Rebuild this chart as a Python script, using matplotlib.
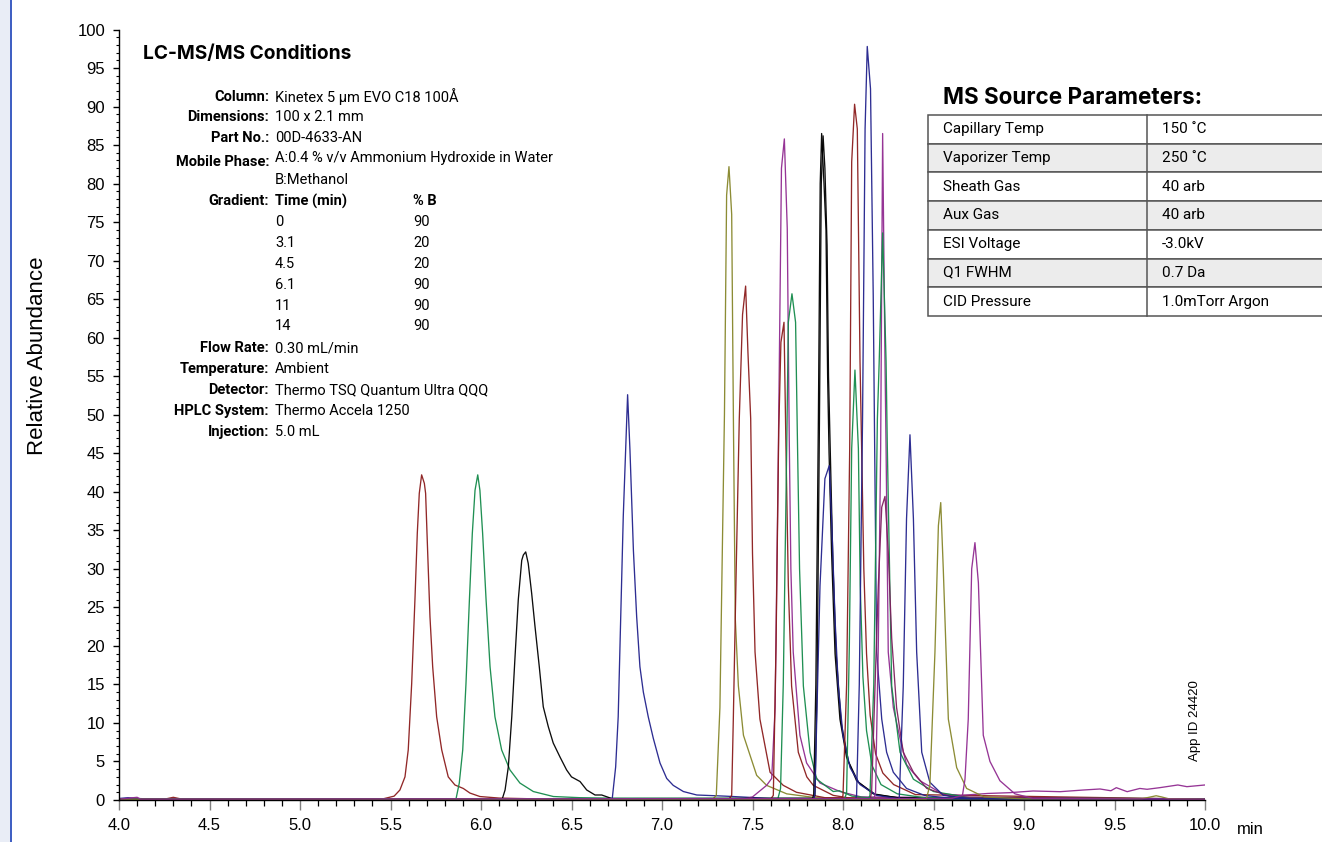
import matplotlib
matplotlib.use("Agg")
import matplotlib.pyplot as plt
from matplotlib.ticker import MultipleLocator, FormatStrFormatter
from matplotlib.patches import Rectangle
from matplotlib.lines import Line2D

W, H = 1322, 842

# ---------------- data: chromatogram traces (time in min, relative abundance) ----------------
rt_01 = [4.0, 4.25, 4.3, 4.35, 5.45, 5.52, 5.552, 5.580, 5.598, 5.617, 5.635, 5.648, 5.659, 5.672, 5.687, 5.694, 5.705, 5.718, 5.733, 5.755, 5.783, 5.819, 5.856, 5.902, 5.939, 5.994, 6.1, 6.3, 10.0]
ab_01 = [0.1, 0.1, 0.35, 0.1, 0.1, 0.5, 1.3, 3.0, 6.5, 15.1, 26.0, 34.6, 39.8, 42.2, 41.1, 39.8, 32.4, 23.8, 17.3, 10.8, 6.5, 3.0, 1.95, 1.5, 0.9, 0.45, 0.25, 0.15, 0.1]

rt_02 = [4.0, 5.862, 5.880, 5.899, 5.917, 5.936, 5.952, 5.967, 5.982, 5.994, 6.009, 6.028, 6.050, 6.077, 6.114, 6.160, 6.215, 6.289, 6.40, 6.547, 6.7, 10.0]
ab_02 = [0.15, 0.15, 2.2, 6.5, 15.1, 26.0, 34.6, 40.2, 42.2, 40.2, 34.6, 26.0, 17.3, 10.8, 6.5, 3.9, 2.2, 1.1, 0.45, 0.3, 0.25, 0.15]

rt_03 = [4.0, 6.117, 6.133, 6.151, 6.17, 6.188, 6.206, 6.225, 6.234, 6.247, 6.261, 6.280, 6.298, 6.322, 6.344, 6.372, 6.399, 6.436, 6.473, 6.50, 6.547, 6.584, 6.630, 6.667, 6.703, 6.731, 6.9, 10.0]
ab_03 = [0.1, 0.1, 1.3, 4.3, 10.8, 18.6, 26.0, 31.1, 31.8, 32.2, 30.7, 26.8, 22.6, 17.3, 12.1, 9.5, 7.4, 5.6, 3.9, 3.0, 2.4, 1.3, 0.65, 0.65, 0.35, 0.1, 0.1, 0.1]

rt_04 = [4.0, 4.05, 4.1, 4.15, 6.725, 6.744, 6.758, 6.772, 6.786, 6.80, 6.81, 6.823, 6.842, 6.86, 6.878, 6.897, 6.924, 6.952, 6.989, 7.026, 7.062, 7.118, 7.192, 7.35, 7.6, 10.0]
ab_04 = [0.2, 0.3, 0.2, 0.15, 0.15, 4.3, 10.8, 23.8, 36.8, 46.0, 52.6, 45.4, 32.4, 23.8, 17.3, 14.0, 10.8, 8.0, 4.8, 2.8, 1.9, 1.1, 0.65, 0.5, 0.2, 0.1]

rt_05 = [4.0, 7.28, 7.30, 7.32, 7.335, 7.345, 7.357, 7.37, 7.385, 7.395, 7.405, 7.422, 7.45, 7.523, 7.578, 7.689, 7.85, 8.0, 10.0]
ab_05 = [0.1, 0.1, 0.6, 12.0, 35.0, 50.0, 78.5, 82.2, 76.0, 48.0, 23.5, 14.8, 8.4, 3.2, 1.9, 0.8, 0.3, 0.15, 0.1]

rt_06 = [4.0, 7.37, 7.385, 7.394, 7.41, 7.427, 7.445, 7.462, 7.475, 7.49, 7.50, 7.514, 7.541, 7.597, 7.67, 7.743, 7.9, 10.0]
ab_06 = [0.1, 0.1, 0.6, 10.5, 30.0, 49.5, 63.0, 66.7, 58.0, 49.5, 32.0, 19.2, 10.5, 3.6, 1.9, 1.0, 0.3, 0.1]

rt_07 = [4.0, 7.45, 7.50, 7.578, 7.606, 7.625, 7.643, 7.66, 7.676, 7.692, 7.703, 7.712, 7.725, 7.762, 7.799, 7.873, 7.983, 8.1, 10.0]
ab_07 = [0.1, 0.1, 0.4, 1.9, 2.8, 12.0, 45.6, 82.0, 85.8, 74.2, 47.0, 30.0, 19.2, 8.4, 4.8, 2.2, 1.1, 0.4, 0.1]

rt_08 = [4.0, 7.60, 7.615, 7.63, 7.645, 7.657, 7.674, 7.685, 7.698, 7.716, 7.753, 7.80, 7.836, 7.946, 8.05, 10.0]
ab_08 = [0.1, 0.1, 0.6, 20.0, 48.0, 59.4, 62.0, 45.6, 27.8, 14.8, 6.2, 3.0, 1.9, 0.6, 0.2, 0.1]

rt_09 = [4.0, 7.64, 7.655, 7.67, 7.689, 7.698, 7.718, 7.738, 7.749, 7.76, 7.781, 7.818, 7.855, 7.946, 7.98, 8.05, 8.2, 10.0]
ab_09 = [0.15, 0.15, 1.5, 15.0, 45.6, 62.0, 65.7, 62.0, 45.6, 30.0, 14.8, 6.2, 2.7, 1.1, 1.2, 0.5, 0.15, 0.15]

rt_10 = [4.0, 7.83, 7.838, 7.85, 7.864, 7.874, 7.882, 7.895, 7.906, 7.915, 7.923, 7.937, 7.956, 7.983, 8.02, 8.075, 8.167, 8.3, 10.0]
ab_10 = [0.1, 0.2, 0.6, 15.0, 49.5, 80.0, 86.5, 80.0, 74.0, 55.0, 45.0, 32.0, 19.0, 10.5, 5.5, 2.5, 0.8, 0.3, 0.1]

rt_11 = [4.0, 7.838, 7.845, 7.857, 7.87, 7.88, 7.89, 7.90, 7.912, 7.92, 7.93, 7.944, 7.962, 7.99, 8.03, 8.085, 8.18, 8.3, 10.0]
ab_11 = [0.1, 0.2, 0.6, 15.0, 49.5, 80.0, 86.2, 82.0, 72.0, 55.0, 45.0, 31.0, 19.0, 10.0, 5.0, 2.3, 0.7, 0.3, 0.1]

rt_12 = [4.0, 7.84, 7.845, 7.855, 7.873, 7.90, 7.924, 7.937, 7.956, 7.974, 8.0, 8.039, 8.094, 8.186, 8.3, 10.0]
ab_12 = [0.1, 0.1, 1.0, 10.5, 27.8, 41.7, 43.4, 36.5, 23.5, 14.8, 8.4, 4.2, 2.0, 0.6, 0.2, 0.1]

rt_13 = [4.0, 8.01, 8.02, 8.035, 8.048, 8.066, 8.085, 8.095, 8.11, 8.13, 8.16, 8.21, 8.3, 8.45, 10.0]
ab_13 = [0.15, 0.15, 1.0, 20.0, 45.6, 55.8, 45.6, 28.0, 16.0, 9.0, 4.5, 2.0, 0.8, 0.3, 0.15]

rt_14 = [4.0, 7.99, 8.0, 8.02, 8.037, 8.048, 8.064, 8.079, 8.094, 8.103, 8.115, 8.13, 8.15, 8.18, 8.22, 8.28, 8.4, 10.0]
ab_14 = [0.1, 0.1, 0.6, 15.0, 45.6, 82.8, 90.3, 87.1, 56.9, 45.6, 30.0, 19.0, 11.0, 6.0, 3.5, 2.0, 0.7, 0.1]

rt_15 = [4.0, 8.07, 8.075, 8.09, 8.108, 8.122, 8.134, 8.152, 8.167, 8.175, 8.186, 8.214, 8.241, 8.278, 8.351, 8.45, 8.6, 10.0]
ab_15 = [0.1, 0.1, 0.6, 15.0, 49.5, 87.1, 97.8, 92.3, 65.5, 45.6, 19.2, 10.5, 6.2, 3.6, 1.5, 0.6, 0.2, 0.1]

rt_16 = [4.0, 8.17, 8.18, 8.195, 8.208, 8.219, 8.232, 8.238, 8.25, 8.278, 8.315, 8.351, 8.425, 8.55, 8.65, 8.8, 8.92, 9.05, 9.2, 9.33, 9.42, 9.48, 9.51, 9.57, 9.64, 9.68, 9.75, 9.85, 9.9, 10.0]
ab_16 = [0.1, 0.1, 1.0, 20.0, 45.6, 86.5, 56.9, 45.6, 19.2, 12.0, 8.0, 4.6, 2.5, 0.8, 0.6, 0.85, 0.95, 1.17, 1.08, 1.3, 1.43, 1.2, 1.6, 1.08, 1.5, 1.39, 1.6, 1.95, 1.73, 1.95]

rt_17 = [4.0, 8.14, 8.149, 8.17, 8.19, 8.2, 8.219, 8.238, 8.245, 8.269, 8.315, 8.389, 8.5, 8.7, 10.0]
ab_17 = [0.15, 0.15, 0.6, 15.0, 49.5, 56.9, 73.6, 56.9, 45.6, 14.8, 6.2, 2.7, 1.1, 0.3, 0.15]

rt_18 = [4.0, 8.15, 8.158, 8.177, 8.195, 8.214, 8.232, 8.25, 8.269, 8.296, 8.333, 8.389, 8.463, 8.6, 10.0]
ab_18 = [0.1, 0.1, 1.0, 14.8, 27.8, 38.0, 39.4, 32.2, 21.0, 12.0, 6.2, 3.6, 1.5, 0.4, 0.1]

rt_19 = [4.0, 8.30, 8.311, 8.333, 8.351, 8.37, 8.389, 8.407, 8.435, 8.48, 8.554, 8.7, 10.0]
ab_19 = [0.1, 0.1, 0.3, 14.8, 36.5, 47.4, 36.5, 19.2, 6.2, 2.3, 0.6, 0.2, 0.1]

rt_20 = [4.0, 8.46, 8.48, 8.508, 8.527, 8.54, 8.554, 8.582, 8.628, 8.683, 8.78, 9.0, 9.65, 9.7, 9.73, 9.76, 9.8, 10.0]
ab_20 = [0.1, 0.1, 1.9, 19.2, 35.6, 38.6, 30.0, 10.5, 4.2, 1.5, 0.4, 0.15, 0.15, 0.4, 0.55, 0.4, 0.15, 0.1]

rt_21 = [4.0, 4.08, 4.1, 4.12, 8.60, 8.66, 8.674, 8.692, 8.711, 8.729, 8.748, 8.775, 8.812, 8.867, 8.95, 9.05, 10.0]
ab_21 = [0.1, 0.3, 0.35, 0.1, 0.2, 0.6, 2.7, 10.5, 30.0, 33.4, 28.2, 8.4, 5.0, 2.5, 0.8, 0.2, 0.1]

RED, GREEN, BLACK, NAVY = "#8b1c1c", "#148a4a", "#000000", "#22228c"
OLIVE, PURPLE, MAROON = "#86862a", "#902a90", "#7e1f5e"

trace_colors = [RED, GREEN, BLACK, NAVY, OLIVE, RED, PURPLE, RED, GREEN, BLACK, BLACK,
                NAVY, GREEN, RED, NAVY, PURPLE, GREEN, MAROON, NAVY, OLIVE, PURPLE]
trace_times = [rt_01, rt_02, rt_03, rt_04, rt_05, rt_06, rt_07, rt_08, rt_09, rt_10, rt_11,
               rt_12, rt_13, rt_14, rt_15, rt_16, rt_17, rt_18, rt_19, rt_20, rt_21]
trace_abund = [ab_01, ab_02, ab_03, ab_04, ab_05, ab_06, ab_07, ab_08, ab_09, ab_10, ab_11,
               ab_12, ab_13, ab_14, ab_15, ab_16, ab_17, ab_18, ab_19, ab_20, ab_21]

# ---------------- data: text blocks ----------------
cond_labels = ["Column:", "Dimensions:", "Part No.:", "Mobile Phase:", "Gradient:",
               "Flow Rate:", "Temperature:", "Detector:", "HPLC System:", "Injection:"]
cond_values = ["Kinetex 5 µm EVO C18 100Å", "100 x 2.1 mm", "00D-4633-AN",
               "A:0.4 % v/v Ammonium Hydroxide in Water", "Time (min)",
               "0.30 mL/min", "Ambient", "Thermo TSQ Quantum Ultra QQQ",
               "Thermo Accela 1250", "5.0 mL"]
mobile_phase_b = "B:Methanol"
grad_time = ["0", "3.1", "4.5", "6.1", "11", "14"]
grad_pct_b = ["90", "20", "20", "90", "90", "90"]

param_names = ["Capillary Temp", "Vaporizer Temp", "Sheath Gas", "Aux Gas",
               "ESI Voltage", "Q1 FWHM", "CID Pressure"]
param_values = ["150 ˚C", "250 ˚C", "40 arb", "40 arb", "-3.0kV", "0.7 Da", "1.0mTorr Argon"]

# ---------------- figure ----------------
plt.rcParams["font.family"] = ["Liberation Sans", "DejaVu Sans"]
fig = plt.figure(figsize=(W / 100, H / 100), dpi=100)
fig.patch.set_facecolor("white")

def fx(px):
    return px / W

def fy(py):
    return 1 - py / H

# left page strip
fig.add_artist(Rectangle((0, 0), fx(10), 1, transform=fig.transFigure,
                         facecolor="#e9edf6", edgecolor="none"))
fig.add_artist(Line2D([fx(10.5), fx(10.5)], [0, 1], transform=fig.transFigure,
                      color="#3b5cc2", lw=1.4))

ax = fig.add_axes([fx(119), fy(800), fx(1205) - fx(119), fy(29.5) - fy(800)])
for t, a, c in zip(trace_times, trace_abund, trace_colors):
    ax.plot(t, a, color=c, lw=0.95, alpha=0.95, solid_joinstyle="round")

ax.set_xlim(4.0, 10.0)
ax.set_ylim(0, 100)
ax.spines["top"].set_visible(False)
ax.spines["right"].set_visible(False)
ax.spines["left"].set_linewidth(1.0)
ax.spines["bottom"].set_linewidth(1.0)
ax.xaxis.set_major_locator(MultipleLocator(0.5))
ax.xaxis.set_minor_locator(MultipleLocator(0.1))
ax.xaxis.set_major_formatter(FormatStrFormatter("%.1f"))
ax.yaxis.set_major_locator(MultipleLocator(5))
ax.yaxis.set_minor_locator(MultipleLocator(1))
ax.yaxis.set_major_formatter(FormatStrFormatter("%d"))
ax.tick_params(axis="x", which="major", direction="out", length=7, width=1.0,
               color="#808080", labelsize=12, pad=6)
ax.tick_params(axis="x", which="minor", direction="out", length=4.5, width=0.9, color="black")
ax.tick_params(axis="y", which="major", direction="out", length=4, width=1.0,
               color="black", labelsize=12, pad=6)
ax.tick_params(axis="y", which="minor", direction="out", length=2.3, width=0.8, color="black")

fig.text(fx(1250), fy(829), "min", fontsize=12, ha="center", va="center")
fig.text(fx(38), fy(356), "Relative Abundance", fontsize=16, rotation=90,
         ha="center", va="center")
fig.text(fx(1195), fy(721), "App ID 24420", fontsize=9.5, rotation=90,
         ha="center", va="center")

# ---------------- LC-MS/MS conditions block ----------------
COND = ["Roboto", "DejaVu Sans"]
TITLE = ["Inter", "Liberation Sans", "DejaVu Sans"]
fig.text(fx(143), fy(54), "LC-MS/MS Conditions", family=TITLE, fontsize=13.8,
         fontweight="bold", ha="left", va="center")
label_y = [97, 117, 138, 162, 201, 348, 369, 390, 411, 432]
for lab, val, yy in zip(cond_labels, cond_values, label_y):
    fig.text(fx(269), fy(yy), lab, family=COND, fontsize=10.5, fontweight="bold",
             ha="right", va="center")
    vy = 158 if lab == "Mobile Phase:" else yy
    fig.text(fx(275), fy(vy), val, family=COND, fontsize=10.5,
             fontweight="bold" if lab == "Gradient:" else "normal", ha="left", va="center")
fig.text(fx(275), fy(180), mobile_phase_b, family=COND, fontsize=10.5, ha="left", va="center")
fig.text(fx(413), fy(201), "% B", family=COND, fontsize=10.5, fontweight="bold",
         ha="left", va="center")
for i, (gt, gb) in enumerate(zip(grad_time, grad_pct_b)):
    yy = 222 + i * 20.9
    fig.text(fx(275), fy(yy), gt, family=COND, fontsize=10.5, ha="left", va="center")
    fig.text(fx(413), fy(yy), gb, family=COND, fontsize=10.5, ha="left", va="center")

# ---------------- MS source parameters table ----------------
fig.text(fx(943), fy(98), "MS Source Parameters:", family=TITLE, fontsize=16.2,
         fontweight="bold", ha="left", va="center")
row_top, row_h = 115, 28.7
x_left, x_mid, x_right = 928, 1147, 1340
for i, (nm, vl) in enumerate(zip(param_names, param_values)):
    top = row_top + i * row_h
    face = "#ececec" if i % 2 == 1 else "white"
    fig.add_artist(Rectangle((fx(x_left), fy(top + row_h)), fx(x_right) - fx(x_left),
                             fy(top) - fy(top + row_h), transform=fig.transFigure,
                             facecolor=face, edgecolor="#555555", lw=1.1))
    fig.text(fx(943), fy(top + row_h / 2), nm, family=COND, fontsize=11,
             ha="left", va="center")
    fig.text(fx(1162), fy(top + row_h / 2), vl, family=COND, fontsize=11,
             ha="left", va="center")
fig.add_artist(Line2D([fx(x_mid), fx(x_mid)], [fy(row_top), fy(row_top + 7 * row_h)],
                      transform=fig.transFigure, color="#555555", lw=1.1))

fig.savefig("out.png", dpi=100)
